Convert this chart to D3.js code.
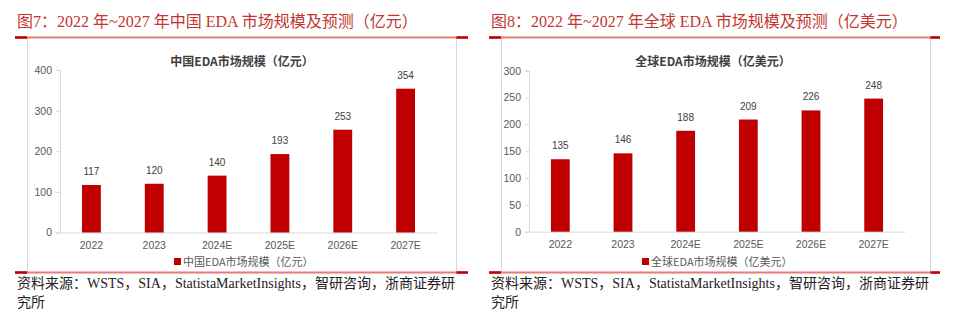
<!DOCTYPE html>
<html><head><meta charset="utf-8">
<script src="https://cdn.jsdelivr.net/npm/d3@7"></script>
<style>
html,body{margin:0;padding:0;background:#fff;}
svg{display:block;}
</style></head>
<body><svg id="c" width="960" height="323"></svg>
<script>
const categories = ["2022","2023","2024E","2025E","2026E","2027E"];
const chinaValues = [117,120,140,193,253,354];
const globalValues = [135,146,188,209,226,248];
const chinaTicks = [0,100,200,300,400];
const globalTicks = [0,50,100,150,200,250,300];
const figTitles = ["图7：2022 年~2027 年中国 EDA 市场规模及预测（亿元）","图8：2022 年~2027 年全球 EDA 市场规模及预测（亿美元）"];
const chartTitles = ["中国EDA市场规模（亿元）","全球EDA市场规模（亿美元）"];
const sourceLines = ["资料来源：WSTS，SIA，StatistaMarketInsights，智研咨询，浙商证券研","究所"];

const svg = d3.select("#c");
const serif = "'Liberation Serif','Times New Roman','Noto Sans CJK SC',serif";
const sans = "'Liberation Sans',Arial,'Noto Sans CJK SC',sans-serif";
const cjk = "'Noto Sans CJK SC',sans-serif";

function panel(ox, cfg){
  const g = svg.append("g").attr("transform",`translate(${ox},0)`);
  g.append("text").attr("x",17).attr("y",27).attr("fill","#C2362F")
    .attr("font-family",serif).attr("font-size",16).text(cfg.figTitle);
  g.append("rect").attr("x",27.5).attr("y",37.5).attr("width",cfg.boxW).attr("height",235)
    .attr("fill","none").attr("stroke","#d9d9d9").attr("stroke-width",1);
  [37.5,272.5].forEach(y=>{
    g.append("line").attr("x1",15).attr("x2",15+cfg.lineW).attr("y1",y).attr("y2",y)
      .attr("stroke","#e27b7b").attr("stroke-width",2);
    g.append("line").attr("x1",15).attr("x2",27).attr("y1",y).attr("y2",y).attr("stroke","#c00000").attr("stroke-width",2.5);
    g.append("line").attr("x1",27.5+cfg.boxW).attr("x2",15+cfg.lineW).attr("y1",y).attr("y2",y).attr("stroke","#c00000").attr("stroke-width",2.5);
  });

  g.append("text").attr("x",cfg.titleX).attr("y",66).attr("text-anchor","middle")
    .attr("fill","#404040").attr("font-family",cjk).attr("font-weight","bold").attr("font-size",12).text(cfg.chartTitle);

  const x = d3.scaleBand().domain(categories).range([cfg.x0,cfg.x1]).paddingInner(0.7).paddingOuter(0.35);
  const y = d3.scaleLinear().domain([0,cfg.max]).range([cfg.y0,cfg.yTop]);

  const ya = g.append("g").attr("transform",`translate(${cfg.x0},0)`)
    .call(d3.axisLeft(y).tickValues(cfg.ticks).tickSize(4).tickPadding(4));
  ya.select(".domain").attr("stroke","#d9d9d9");
  ya.selectAll(".tick line").attr("stroke","#d9d9d9");
  ya.selectAll("text").attr("fill","#595959").attr("font-family",sans).attr("font-size",10.5);
  const xa = g.append("g").attr("transform",`translate(0,${cfg.y0})`)
    .call(d3.axisBottom(x).tickSize(0).tickPadding(9));
  xa.select(".domain").attr("stroke","#d9d9d9");
  xa.selectAll("text").attr("fill","#595959").attr("font-family",sans).attr("font-size",10.5);

  g.selectAll(".bar").data(cfg.values).enter().append("rect")
    .attr("x",(d,i)=>x(categories[i])).attr("width",x.bandwidth())
    .attr("y",d=>y(d)).attr("height",d=>cfg.y0-y(d)).attr("fill","#C00000");
  g.selectAll(".vl").data(cfg.values).enter().append("text")
    .attr("x",(d,i)=>x(categories[i])+x.bandwidth()/2).attr("y",d=>y(d)-10)
    .attr("text-anchor","middle").attr("fill","#404040").attr("font-family",sans).attr("font-size",10)
    .text(d=>d);

  g.append("rect").attr("x",cfg.legX).attr("y",258).attr("width",7).attr("height",7).attr("fill","#C00000");
  g.append("text").attr("x",cfg.legX+9).attr("y",265.5).attr("fill","#595959")
    .attr("font-family",cjk).attr("font-size",11).text(cfg.chartTitle);

  sourceLines.forEach((s,i)=>{
    g.append("text").attr("x",17).attr("y",288+i*19).attr("fill","#222")
      .attr("font-family",serif).attr("font-size",14).text(s);
  });
}

panel(0,{figTitle:figTitles[0],chartTitle:chartTitles[0],values:chinaValues,ticks:chinaTicks,max:400,
  boxW:429,lineW:453,titleX:242,x0:60,x1:437,y0:232.5,yTop:70,legX:174});
panel(474,{figTitle:figTitles[1],chartTitle:chartTitles[1],values:globalValues,ticks:globalTicks,max:300,
  boxW:429,lineW:451,titleX:239,x0:55,x1:431,y0:231.7,yTop:70.7,legX:168});
</script></body></html>
